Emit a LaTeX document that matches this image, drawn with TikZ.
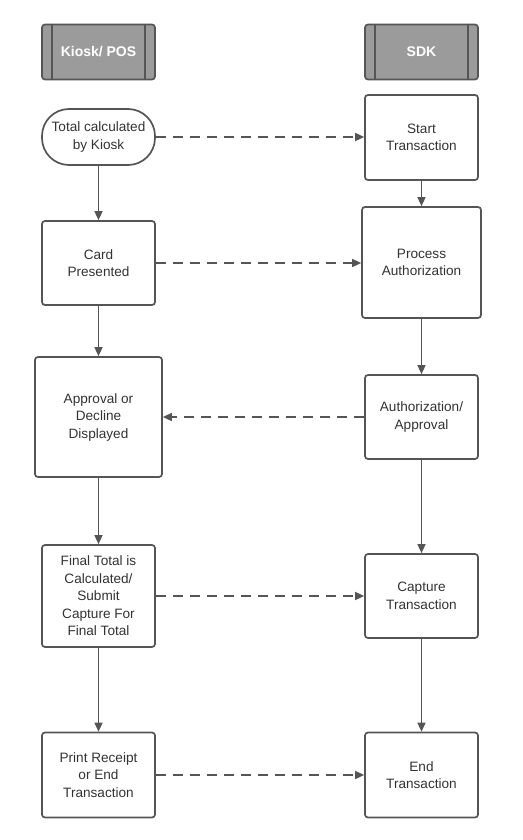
\documentclass[tikz,border=0pt]{standalone}
\usepackage{fontspec}
\setmainfont{Liberation Sans}
\usetikzlibrary{arrows.meta,calc}
\definecolor{ln}{HTML}{555555}
\definecolor{tx}{HTML}{333333}
\definecolor{hd}{HTML}{9B9B9B}
\begin{document}
\begin{tikzpicture}[x=1pt,y=-1pt,
  box/.style={draw=ln,line width=1.7pt,rounded corners=3pt,inner sep=0pt,align=center,
    text=tx,font=\fontsize{13.6}{17.5}\selectfont},
  stadium/.style={box,rounded corners=27pt},
  hdr/.style={draw=ln,fill=hd,line width=1.7pt,rounded corners=3pt,inner sep=0pt,
    text=white,font=\bfseries\fontsize{14}{16}\selectfont,minimum width=113pt,minimum height=55pt},
  flow/.style={draw=ln,line width=1.5pt,-{Triangle[length=9pt,width=8pt]}},
  msg/.style={flow,dash pattern=on 10pt off 7pt}]
\useasboundingbox (0,0) rectangle (522,840);
% headers
\node[hdr] (h1) at (98.5,52) {Kiosk/ POS};
\node[hdr] (h2) at (421.5,52) {SDK};
\draw[ln,line width=1.4pt] ($(h1.north west)+(11,0)$) -- ($(h1.south west)+(11,0)$)
  ($(h1.north east)+(-11,0)$) -- ($(h1.south east)+(-11,0)$)
  ($(h2.north west)+(11,0)$) -- ($(h2.south west)+(11,0)$)
  ($(h2.north east)+(-11,0)$) -- ($(h2.south east)+(-11,0)$);
% left column
\node[stadium,minimum width=113pt,minimum height=56pt] (a1) at (98.5,137) {Total calculated\\by Kiosk};
\node[box,minimum width=113pt,minimum height=84pt] (a2) at (98.5,263) {Card\\Presented};
\node[box,minimum width=127pt,minimum height=120pt] (a3) at (98.5,417) {Approval or\\Decline\\Displayed};
\node[box,minimum width=113pt,minimum height=102pt] (a4) at (98.5,596) {Final Total is\\Calculated/\\Submit\\Capture For\\Final Total};
\node[box,minimum width=113pt,minimum height=85pt] (a5) at (98.5,775) {Print Receipt\\or End\\Transaction};
% right column
\node[box,minimum width=113pt,minimum height=85pt] (b1) at (421.5,137.5) {Start\\Transaction};
\node[box,minimum width=119pt,minimum height=111pt] (b2) at (421.5,262.5) {Process\\Authorization};
\node[box,minimum width=113pt,minimum height=84pt] (b3) at (421.5,417) {Authorization/\\Approval};
\node[box,minimum width=113pt,minimum height=84pt] (b4) at (421.5,596) {Capture\\Transaction};
\node[box,minimum width=113pt,minimum height=85pt] (b5) at (421.5,775) {End\\Transaction};
% vertical flows
\draw[flow] (a1) -- (a2);
\draw[flow] (a2) -- (a3);
\draw[flow] (a3) -- (a4);
\draw[flow] (a4) -- (a5);
\draw[flow] (b1) -- (b2);
\draw[flow] (b2) -- (b3);
\draw[flow] (b3) -- (b4);
\draw[flow] (b4) -- (b5);
% messages
\draw[msg] (a1) -- (b1.west |- a1);
\draw[msg] (a2) -- (b2.west |- a2);
\draw[msg] (b3) -- (a3.east |- b3);
\draw[msg] (a4) -- (b4.west |- a4);
\draw[msg] (a5) -- (b5.west |- a5);
\end{tikzpicture}
\end{document}
